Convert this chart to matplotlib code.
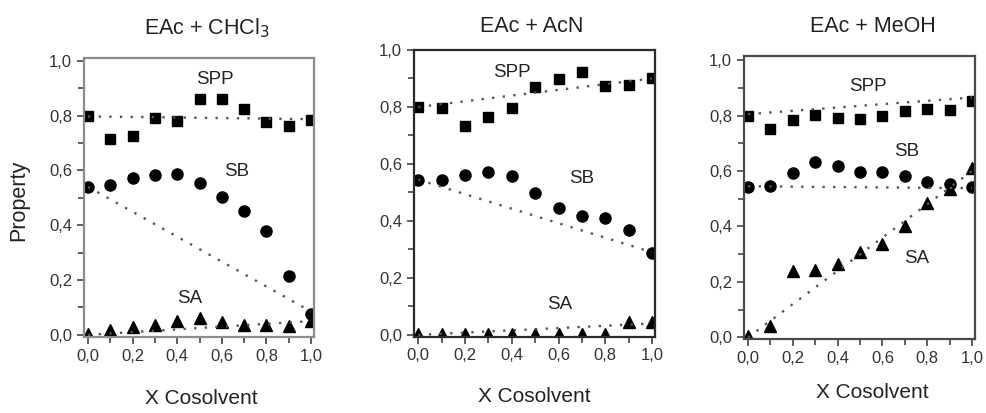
# Solvatochromic parameters of ethyl acetate mixtures, three cosolvents

import matplotlib.pyplot as plt
from matplotlib.ticker import MultipleLocator, FuncFormatter

# data
# ---

x = [0.0, 0.1, 0.2, 0.3, 0.4, 0.5, 0.6, 0.7, 0.8, 0.9, 1.0]

titles = ["EAc + CHCl$_3$", "EAc + AcN", "EAc + MeOH"]

spp = [
    [0.800, 0.713, 0.725, 0.792, 0.781, 0.860, 0.859, 0.825, 0.778, 0.762, 0.784],
    [0.800, 0.797, 0.734, 0.763, 0.797, 0.870, 0.899, 0.923, 0.872, 0.876, 0.902],
    [0.800, 0.752, 0.783, 0.803, 0.791, 0.789, 0.800, 0.818, 0.824, 0.820, 0.852],
]
sb = [
    [0.541, 0.548, 0.573, 0.583, 0.586, 0.553, 0.504, 0.453, 0.379, 0.215, 0.077],
    [0.544, 0.542, 0.562, 0.570, 0.559, 0.497, 0.446, 0.418, 0.411, 0.367, 0.288],
    [0.544, 0.546, 0.592, 0.631, 0.618, 0.598, 0.597, 0.582, 0.559, 0.552, 0.544],
]
sa = [
    [0.004, 0.016, 0.028, 0.036, 0.052, 0.063, 0.047, 0.036, 0.034, 0.033, 0.051],
    [0.002, 0.002, 0.002, 0.002, 0.002, 0.002, 0.002, 0.002, 0.002, 0.044, 0.045],
    [0.004, 0.042, 0.241, 0.244, 0.265, 0.307, 0.337, 0.403, 0.484, 0.535, 0.610],
]

# ideal (linear) lines: value at x=0 and at x=1
spp_line = [(0.797, 0.787), (0.800, 0.900), (0.805, 0.865)]
sb_line = [(0.540, 0.085), (0.545, 0.290), (0.545, 0.538)]
sa_line = [(0.000, 0.050), (0.000, 0.040), (0.000, 0.600)]

# where the SPP / SB / SA labels sit
spp_lab = [(0.57, 0.93), (0.40, 0.92), (0.535, 0.905)]
sb_lab = [(0.665, 0.595), (0.70, 0.548), (0.71, 0.67)]
sa_lab = [(0.454, 0.134), (0.603, 0.107), (0.753, 0.286)]


# layout
# ---

plt.rcParams["font.family"] = ["Liberation Sans", "DejaVu Sans"]

W, H = 987, 413
fig = plt.figure(figsize=(W / 100, H / 100), dpi=100)

# [left, bottom, width, height] in figure fraction
boxes = [
    [0.0851, 0.184, 0.233, 0.6755],
    [0.4195, 0.185, 0.2442, 0.694],
    [0.7538, 0.179, 0.234, 0.685],
]
ylims = [(-0.008, 1.01), (-0.006, 1.0), (-0.006, 1.014)]
spine_cols = ["#8c8c8c", "#2a2a2a", "#4a4a4a"]

# pixel centres of titles and x labels
title_pos = [(207, 28), (532, 27), (873, 27)]
xlab_pos = [(201, 399), (534, 397), (872, 393)]

comma = FuncFormatter(lambda v, pos: f"{v:.1f}".replace(".", ","))
txt = "#222222"

for i in range(3):
    ax = fig.add_axes(boxes[i])

    ax.plot(x, spp[i], "s", color="black", markersize=7.5)
    ax.plot(x, sb[i], "o", color="black", markersize=8)
    ax.plot(x, sa[i], "^", color="black", markersize=8.5)

    for a, b in (spp_line[i], sb_line[i], sa_line[i]):
        ax.plot([0, 1], [a, b], linestyle=(0, (1, 3.5)), color="#555555", linewidth=1.7)

    ax.text(*spp_lab[i], "SPP", ha="center", va="center", fontsize=13.5, color=txt)
    ax.text(*sb_lab[i], "SB", ha="center", va="center", fontsize=13.5, color=txt)
    ax.text(*sa_lab[i], "SA", ha="center", va="center", fontsize=13.5, color=txt)

    ax.set_xlim(-0.018, 1.013)
    ax.set_ylim(*ylims[i])
    ax.xaxis.set_major_locator(MultipleLocator(0.2))
    ax.xaxis.set_minor_locator(MultipleLocator(0.1))
    ax.yaxis.set_major_locator(MultipleLocator(0.2))
    ax.yaxis.set_minor_locator(MultipleLocator(0.1))
    ax.xaxis.set_major_formatter(comma)
    ax.yaxis.set_major_formatter(comma)
    ax.tick_params(which="both", direction="out", top=False, right=False,
                   colors="#444444", labelcolor="#333333", labelsize=12)
    ax.tick_params(which="major", length=5, width=1.2)
    ax.tick_params(which="minor", length=4, width=1.2)

    for s in ax.spines.values():
        s.set_color(spine_cols[i])
        s.set_linewidth(1.6)

    tx, ty = title_pos[i]
    fig.text(tx / W, 1 - ty / H, titles[i], ha="center", va="center", fontsize=15.5, color=txt)
    lx, ly = xlab_pos[i]
    fig.text(lx / W, 1 - ly / H, "X Cosolvent", ha="center", va="center", fontsize=15, color=txt)

fig.text(19 / W, 1 - 200 / H, "Property", rotation=90, ha="center", va="center",
         fontsize=15.5, color=txt)

plt.savefig("out.png", dpi=100)
plt.close()
